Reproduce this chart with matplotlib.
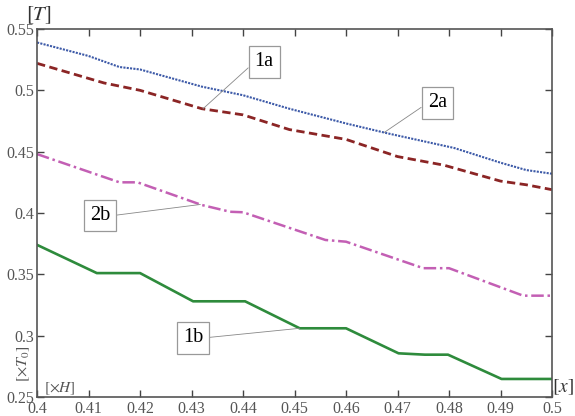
import numpy as np
import matplotlib.pyplot as plt

plt.rcParams['font.family'] = ['Liberation Serif', 'DejaVu Serif']
plt.rcParams['mathtext.fontset'] = 'stix'

# curve 1a (dashed, dark red)
x_1a = [0.400, 0.413, 0.420, 0.432, 0.440, 0.449, 0.460, 0.470, 0.479, 0.490, 0.495, 0.500]
y_1a = [0.522, 0.506, 0.500, 0.485, 0.480, 0.468, 0.460, 0.446, 0.439, 0.426, 0.423, 0.419]

# curve 2a (dotted, blue)
x_2a = [0.400, 0.410, 0.416, 0.420, 0.432, 0.440, 0.449, 0.460, 0.468, 0.481, 0.490, 0.495, 0.500]
y_2a = [0.539, 0.528, 0.519, 0.517, 0.503, 0.496, 0.485, 0.473, 0.465, 0.453, 0.441, 0.435, 0.432]

# curve 2b (dash-dot, magenta)
x_2b = [0.400, 0.416, 0.4195, 0.432, 0.4375, 0.440, 0.456, 0.460, 0.475, 0.480, 0.4944, 0.500]
y_2b = [0.448, 0.425, 0.425, 0.4065, 0.401, 0.4006, 0.378, 0.3766, 0.355, 0.355, 0.3326, 0.3326]

# curve 1b (solid, green)
x_1b = [0.400, 0.4116, 0.420, 0.4303, 0.4404, 0.451, 0.460, 0.4702, 0.4753, 0.4798, 0.4902, 0.500]
y_1b = [0.374, 0.351, 0.351, 0.328, 0.328, 0.306, 0.306, 0.2856, 0.2845, 0.2845, 0.2647, 0.2647]

xticks = [0.4, 0.41, 0.42, 0.43, 0.44, 0.45, 0.46, 0.47, 0.48, 0.49, 0.5]
xticklabels = ['0.4', '0.41', '0.42', '0.43', '0.44', '0.45', '0.46', '0.47', '0.48', '0.49', '0.5']
yticks = [0.25, 0.3, 0.35, 0.4, 0.45, 0.5, 0.55]
yticklabels = ['0.25', '0.3', '0.35', '0.4', '0.45', '0.5', '0.55']

fig = plt.figure(figsize=(5.75, 4.16), dpi=100)
ax = fig.add_axes([0.0645, 0.0457, 0.8955, 0.8846])

ax.plot(x_2a, y_2a, color='#3d5aa8', lw=1.5, ls=(0, (1, 0.6)))
ax.plot(x_1a, y_1a, color='#8b2525', lw=2.0, ls=(0, (3, 1.6)))
ax.plot(x_2b, y_2b, color='#c35fb4', lw=1.8, ls=(0, (5, 1.5, 1, 1.5)))
ax.plot(x_1b, y_1b, color='#2e8b3c', lw=1.9)

ax.set_xlim(0.4, 0.5)
ax.set_ylim(0.25, 0.55)
ax.set_xticks(xticks)
ax.set_xticklabels(xticklabels)
ax.set_yticks(yticks)
ax.set_yticklabels(yticklabels)
ax.tick_params(direction='in', length=5, width=1, top=True, right=True,
               labelsize=11.5, labelcolor='#555555', color='#444444', pad=3)
ax.tick_params(axis='y', pad=2)
for s in ax.spines.values():
    s.set_color('#555555')
    s.set_linewidth(1.2)

# curve labels
box = dict(boxstyle='square,pad=0.3', fc='white', ec='#999999', lw=0.9)
arr = dict(arrowstyle='-', color='#888888', lw=0.6, shrinkA=0, shrinkB=0)
labels = [('1a', x_1a, y_1a, 0.4322, (0.4441, 0.5231), (0, 0.5)),
          ('2a', x_2a, y_2a, 0.4674, (0.4777, 0.4897), (0, 0.5)),
          ('2b', x_2b, y_2b, 0.4317, (0.4122, 0.3976), (1, 0.5)),
          ('1b', x_1b, y_1b, 0.4510, (0.4303, 0.2981), (1, 0.5))]
for txt, xs, ys, xp, pos, rp in labels:
    a = dict(arr, relpos=rp)
    ax.annotate(txt, xy=(xp, np.interp(xp, xs, ys)), xytext=pos,
                ha='center', va='center', fontsize=14.5, bbox=box, arrowprops=a)

fig.text(39 / 575, 1 - 15 / 416, r'$[T]$', fontsize=15, ha='center', va='center', color='#333333')
fig.text(563 / 575, 1 - 387 / 416, r'$[x]$', fontsize=14, ha='center', va='center', color='#333333')
fig.text(24 / 575, 1 - 364 / 416, r'$[\times T_0]$', fontsize=11.5, rotation=90,
         ha='center', va='center', color='#555555')
fig.text(60 / 575, 1 - 389 / 416, r'$[\times H]$', fontsize=11, ha='center', va='center', color='#555555')

fig.savefig('out.png', dpi=100)
